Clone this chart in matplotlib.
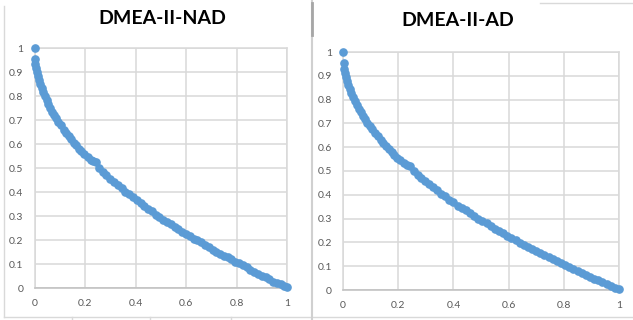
import matplotlib.pyplot as plt
from matplotlib.lines import Line2D

# Pareto fronts
nad_x = [0.0, 0.0, 0.003, 0.006, 0.01, 0.013, 0.018, 0.022, 0.028, 0.035, 0.042, 0.048,
         0.055, 0.062, 0.07, 0.078, 0.085, 0.095, 0.105, 0.115, 0.125, 0.135, 0.145,
         0.155, 0.165, 0.175, 0.185, 0.195, 0.21, 0.222, 0.232, 0.242, 0.255, 0.27,
         0.285, 0.3, 0.315, 0.33, 0.345, 0.36, 0.375, 0.39, 0.405, 0.42, 0.435, 0.45,
         0.465, 0.48, 0.495, 0.51, 0.525, 0.54, 0.555, 0.57, 0.585, 0.6, 0.615, 0.63,
         0.645, 0.66, 0.675, 0.69, 0.705, 0.72, 0.735, 0.75, 0.765, 0.78, 0.795, 0.81,
         0.825, 0.84, 0.855, 0.87, 0.885, 0.9, 0.915, 0.93, 0.945, 0.96, 0.975, 0.99, 1.0]
nad_y = [1.0, 0.955, 0.935, 0.918, 0.9, 0.885, 0.865, 0.85, 0.835, 0.815, 0.8, 0.782,
         0.765, 0.75, 0.735, 0.72, 0.708, 0.693, 0.678, 0.66, 0.646, 0.634, 0.62,
         0.606, 0.594, 0.58, 0.57, 0.558, 0.545, 0.535, 0.53, 0.525, 0.5, 0.485,
         0.47, 0.455, 0.44, 0.43, 0.415, 0.4, 0.39, 0.38, 0.365, 0.355, 0.34, 0.33,
         0.32, 0.306, 0.295, 0.285, 0.275, 0.265, 0.255, 0.245, 0.235, 0.225, 0.215,
         0.206, 0.198, 0.19, 0.18, 0.17, 0.16, 0.15, 0.143, 0.135, 0.128, 0.12, 0.11,
         0.104, 0.096, 0.086, 0.077, 0.068, 0.06, 0.052, 0.046, 0.036, 0.027, 0.02,
         0.015, 0.008, 0.004]

ad_x = [0.0, 0.004, 0.002, 0.006, 0.01, 0.014, 0.019, 0.024, 0.03, 0.036, 0.043, 0.05,
        0.057, 0.064, 0.072, 0.08, 0.088, 0.097, 0.106, 0.116, 0.126, 0.136, 0.146,
        0.156, 0.166, 0.176, 0.186, 0.197, 0.208, 0.22, 0.232, 0.244, 0.256, 0.27,
        0.284, 0.298, 0.312, 0.326, 0.34, 0.355, 0.37, 0.385, 0.4, 0.415, 0.43, 0.445,
        0.46, 0.475, 0.49, 0.505, 0.52, 0.535, 0.55, 0.565, 0.58, 0.595, 0.61, 0.625,
        0.64, 0.655, 0.67, 0.685, 0.7, 0.715, 0.73, 0.745, 0.76, 0.775, 0.79, 0.805,
        0.82, 0.835, 0.85, 0.865, 0.88, 0.895, 0.91, 0.925, 0.94, 0.955, 0.97, 0.985, 1.0]
ad_y = [1.0, 0.955, 0.93, 0.91, 0.895, 0.88, 0.862, 0.845, 0.828, 0.81, 0.795, 0.778,
        0.762, 0.748, 0.732, 0.718, 0.703, 0.69, 0.675, 0.66, 0.646, 0.632, 0.618,
        0.605, 0.593, 0.58, 0.568, 0.556, 0.545, 0.533, 0.525, 0.52, 0.5, 0.485,
        0.472, 0.458, 0.445, 0.432, 0.42, 0.405, 0.393, 0.38, 0.368, 0.355, 0.345,
        0.335, 0.325, 0.312, 0.3, 0.29, 0.28, 0.268, 0.258, 0.25, 0.238, 0.228,
        0.218, 0.208, 0.198, 0.19, 0.18, 0.172, 0.163, 0.155, 0.147, 0.138, 0.13,
        0.12, 0.112, 0.104, 0.096, 0.088, 0.08, 0.072, 0.063, 0.055, 0.047, 0.04,
        0.032, 0.024, 0.016, 0.008, 0.004]

titles = ["DMEA-II-NAD", "DMEA-II-AD"]
x_ticks = [0, 0.2, 0.4, 0.6, 0.8, 1]
x_labels = ["0", "0.2", "0.4", "0.6", "0.8", "1"]
y_ticks = [0, 0.1, 0.2, 0.3, 0.4, 0.5, 0.6, 0.7, 0.8, 0.9, 1]
y_labels = ["0", "0.1", "0.2", "0.3", "0.4", "0.5", "0.6", "0.7", "0.8", "0.9", "1"]

BLUE = "#5b9bd5"
GRID = "#d9d9d9"
TEXT = "#595959"

plt.rcParams["font.family"] = ["Lato", "DejaVu Sans"]

W, H = 633, 320
fig = plt.figure(figsize=(W / 100, H / 100), dpi=100)


def px(x0, y0, x1, y1):
    """pixel box (top-left origin) -> figure rect"""
    return [x0 / W, 1 - y1 / H, (x1 - x0) / W, (y1 - y0) / H]


def fig_line(xs, ys, color, lw=1.0):
    fig.add_artist(Line2D([x / W for x in xs], [1 - y / H for y in ys],
                          transform=fig.transFigure, color=color, lw=lw))


# panel frames (screenshot borders)
fig_line([4, 4], [6, 317], "#d9d9d9")
fig_line([4, 311], [317, 317], "#d9d9d9")
fig_line([313, 633], [317, 317], "#d9d9d9")
fig_line([540, 633], [3, 3], "#d9d9d9")
fig_line([311.5, 311.5], [0, 320], "#d0d0d0", lw=1.5)
fig_line([311.5, 311.5], [3, 35], "#a6a6a6", lw=2)
for xp in [72, 150, 231]:
    fig_line([xp, xp], [317, 320], "#d9d9d9")

panels = [
    (px(34.5, 48, 287, 288), nad_x, nad_y, 162, 18),
    (px(343, 52, 619, 290), ad_x, ad_y, 458, 20),
]

for (rect, xs, ys, tx, ty), title in zip(panels, titles):
    ax = fig.add_axes(rect)
    ax.plot(xs, ys, "o", color=BLUE, ms=5.2, mec=BLUE, clip_on=False, zorder=3)
    ax.set_xlim(0, 1)
    ax.set_ylim(0, 1)
    ax.set_xticks(x_ticks)
    ax.set_xticklabels(x_labels)
    ax.set_yticks(y_ticks)
    ax.set_yticklabels(y_labels)
    ax.grid(True, color=GRID, lw=1.1)
    ax.set_axisbelow(True)
    for side in ["top", "right", "left"]:
        ax.spines[side].set_color(GRID)
        ax.spines[side].set_linewidth(1.1)
    ax.spines["bottom"].set_color("#bfbfbf")
    ax.spines["bottom"].set_linewidth(1.1)
    ax.tick_params(length=0, labelsize=7.5, labelcolor=TEXT, pad=8)
    fig.text(tx / W, 1 - ty / H, title, ha="center", va="center",
             fontsize=14, fontweight="bold", color="black")

fig.savefig("out.png", dpi=100)
